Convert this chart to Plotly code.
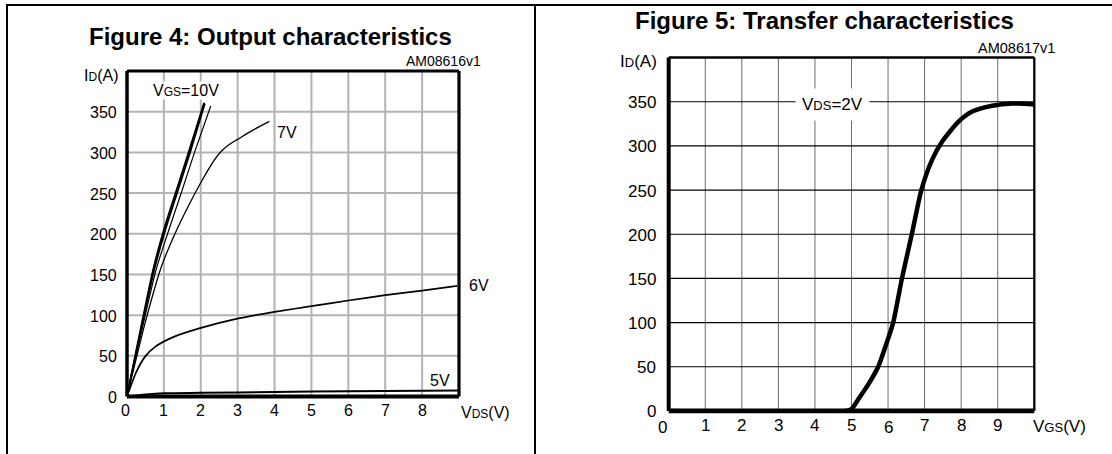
import plotly.graph_objects as go

FONT = "Liberation Sans, Arial, sans-serif"
W, H = 1112, 454

# ---------------- Figure 4: output characteristics ----------------
vds_10v = [0, 0.71, 1.0, 1.33, 1.67, 2.09]
id_10v = [0, 156, 205, 252, 300, 361]
vds_9v = [0, 0.74, 1.04, 1.37, 1.71, 2.11]
id_9v = [0, 156, 205, 252, 300, 360]
vds_8v = [0, 0.79, 1.1, 1.47, 1.83, 2.27]
id_8v = [0, 156, 200, 250, 300, 357]
vds_7v = [0, 0.5, 0.92, 1.3, 1.64, 2.04, 2.3, 2.55, 2.78, 3.0, 3.4, 3.86]
id_7v = [0, 92, 158, 200, 232, 266, 286, 301, 310, 316, 327, 338]
vds_6v = [0, 0.25, 0.49, 0.76, 1.25, 1.98, 3.02, 4.0, 5.0, 6.0, 7.0, 8.0, 8.95]
id_6v = [0, 30, 49, 61, 73, 84, 96, 104, 111, 118, 124.5, 130, 136]
vds_5v = [0, 0.5, 1, 2, 4, 6, 9]
id_5v = [0, 2.5, 4, 4.5, 5.5, 6.5, 7.5]

out_xticks = [0, 1, 2, 3, 4, 5, 6, 7, 8]
id_ticks = [0, 50, 100, 150, 200, 250, 300, 350]

# ---------------- Figure 5: transfer characteristics ----------------
vgs_tr = [0, 4.85, 5.0, 5.2, 5.46, 5.73, 5.97, 6.14, 6.38, 6.65, 6.91, 7.2,
          7.48, 7.94, 8.3, 8.85, 9.4, 10.0]
id_tr = [0, 0, 2, 14, 30, 50, 78, 100, 150, 200, 250, 284,
         305, 328, 339, 345.5, 348, 347]
tr_xticks = [0, 1, 2, 3, 4, 5, 6, 7, 8, 9]


def px(x):
    return x / W


def py(y):
    return 1 - y / H


fig = go.Figure()

out_curves = [
    (vds_10v, id_10v, 1.8),
    (vds_9v, id_9v, 1.8),
    (vds_8v, id_8v, 1.2),
    (vds_7v, id_7v, 1.3),
    (vds_6v, id_6v, 1.7),
    (vds_5v, id_5v, 2.0),
]
for xs, ys, w in out_curves:
    fig.add_trace(go.Scatter(x=xs, y=ys, mode="lines", xaxis="x", yaxis="y",
                             line=dict(color="black", width=w, shape="spline",
                                       smoothing=0.6),
                             showlegend=False, hoverinfo="skip"))

fig.add_trace(go.Scatter(x=vgs_tr, y=id_tr, mode="lines", xaxis="x2", yaxis="y2",
                         line=dict(color="black", width=4.5, shape="spline",
                                   smoothing=0.6),
                         showlegend=False, hoverinfo="skip"))

# the axes only supply scales; grid, frame and tick labels are drawn below
hidden = dict(visible=False, fixedrange=True)
fig.update_layout(
    width=W, height=H,
    margin=dict(l=0, r=0, t=0, b=0),
    paper_bgcolor="white", plot_bgcolor="white",
    xaxis=dict(domain=[px(127), px(459)], range=[0, 9], anchor="y", **hidden),
    yaxis=dict(domain=[py(396.5), py(71)], range=[0, 400], anchor="x", **hidden),
    xaxis2=dict(domain=[px(668.7), px(1034.3)], range=[0, 10], anchor="y2", **hidden),
    yaxis2=dict(domain=[py(410.9), py(57.6)], range=[0, 400], anchor="x2", **hidden),
)

shapes = []
ann = []


def vgrid(xr, yr, vals, color, width):
    for v in vals:
        shapes.append(dict(type="line", xref=xr, yref=yr + " domain", x0=v, x1=v,
                           y0=0, y1=1, layer="below",
                           line=dict(color=color, width=width)))


def hgrid(xr, yr, vals, color, width):
    for v in vals:
        shapes.append(dict(type="line", xref=xr + " domain", yref=yr, x0=0, x1=1,
                           y0=v, y1=v, layer="below",
                           line=dict(color=color, width=width)))


vgrid("x", "y", out_xticks, "#b3b3b3", 2)
hgrid("x", "y", id_ticks, "#b3b3b3", 2)
vgrid("x2", "y2", tr_xticks, "#6e6e6e", 1)
hgrid("x2", "y2", id_ticks, "black", 1.2)

# page frame and divider
shapes.append(dict(type="line", xref="paper", yref="paper", x0=px(6), x1=1,
                   y0=py(5), y1=py(5), line=dict(color="black", width=2)))
shapes.append(dict(type="line", xref="paper", yref="paper", x0=px(7), x1=px(7),
                   y0=py(5), y1=0, line=dict(color="black", width=2)))
shapes.append(dict(type="line", xref="paper", yref="paper", x0=px(535), x1=px(535),
                   y0=py(5), y1=0, line=dict(color="black", width=2)))


def border(xr, yr, side, width):
    if side == "left":
        d = dict(x0=0, x1=0, y0=0, y1=1)
    elif side == "right":
        d = dict(x0=1, x1=1, y0=0, y1=1)
    elif side == "top":
        d = dict(x0=0, x1=1, y0=1, y1=1)
    else:
        d = dict(x0=0, x1=1, y0=0, y1=0)
    return dict(type="line", xref=xr + " domain", yref=yr + " domain",
                line=dict(color="black", width=width), layer="above", **d)


for side, w in [("left", 3.5), ("right", 3.2), ("top", 3), ("bottom", 4)]:
    shapes.append(border("x", "y", side, w))
for side, w in [("left", 4), ("right", 2.3), ("top", 2.5), ("bottom", 4.7)]:
    shapes.append(border("x2", "y2", side, w))


def xtick_labels(xr, yr, vals, size, drop, nudge=None):
    for v in vals:
        dx, dy = (nudge or {}).get(v, (0, 0))
        ann.append(dict(xref=xr, yref=yr + " domain", x=v, y=0, text=str(v),
                        showarrow=False, xanchor="center", yanchor="middle",
                        xshift=dx, yshift=-drop - dy,
                        font=dict(family=FONT, size=size, color="black")))


def ytick_labels(xr, yr, vals, size, gap):
    for v in vals:
        ann.append(dict(xref=xr + " domain", yref=yr, x=0, y=v, text=str(v),
                        showarrow=False, xanchor="right", yanchor="middle",
                        xshift=-gap, yshift=-1,
                        font=dict(family=FONT, size=size, color="black")))


xtick_labels("x", "y", out_xticks, 16, 14, nudge={0: (-2, 0)})
ytick_labels("x", "y", id_ticks, 16, 8)
xtick_labels("x2", "y2", tr_xticks, 17, 14.5, nudge={0: (-6, 2), 6: (0, 2)})
ytick_labels("x2", "y2", id_ticks, 17, 11)

small = "<span style='font-size:{}px'>{}</span>"


def note(x, y, text, size, bold=False, bg=None, pad=0, xanchor="center"):
    d = dict(xref="paper", yref="paper", x=px(x), y=py(y), text=text,
             showarrow=False, xanchor=xanchor, yanchor="middle",
             font=dict(family=FONT, size=size, color="black"))
    if bold:
        d["text"] = "<b>" + text + "</b>"
    if bg:
        d["bgcolor"] = bg
        d["borderpad"] = pad
    ann.append(d)


# titles
note(270.5, 37, "Figure 4: Output characteristics", 24, bold=True)
note(824.5, 20, "Figure 5: Transfer characteristics", 24, bold=True)
note(443, 61, "AM08616v1", 14)
note(1016, 48, "AM08617v1", 14.5)

# axis labels
note(120, 75, "I" + small.format(12, "D") + "(A)", 16, xanchor="right")
note(459, 412, "V" + small.format(12, "DS") + "(V)", 16, xanchor="left")
note(659, 62, "I" + small.format(13, "D") + "(A)", 17, xanchor="right")
note(1031, 426, "V" + small.format(13, "GS") + "(V)", 17, xanchor="left")

# curve labels
note(186, 90, "V" + small.format(12, "GS") + "=10V", 16, bg="white", pad=0)
note(287, 133, "7V", 16)
note(479, 285, "6V", 16)
note(440, 380, "5V", 16)
note(832, 104, "V" + small.format(13, "DS") + "=2V", 17, bg="white", pad=6)

fig.update_layout(shapes=shapes, annotations=ann)

fig.write_html("out.html")
